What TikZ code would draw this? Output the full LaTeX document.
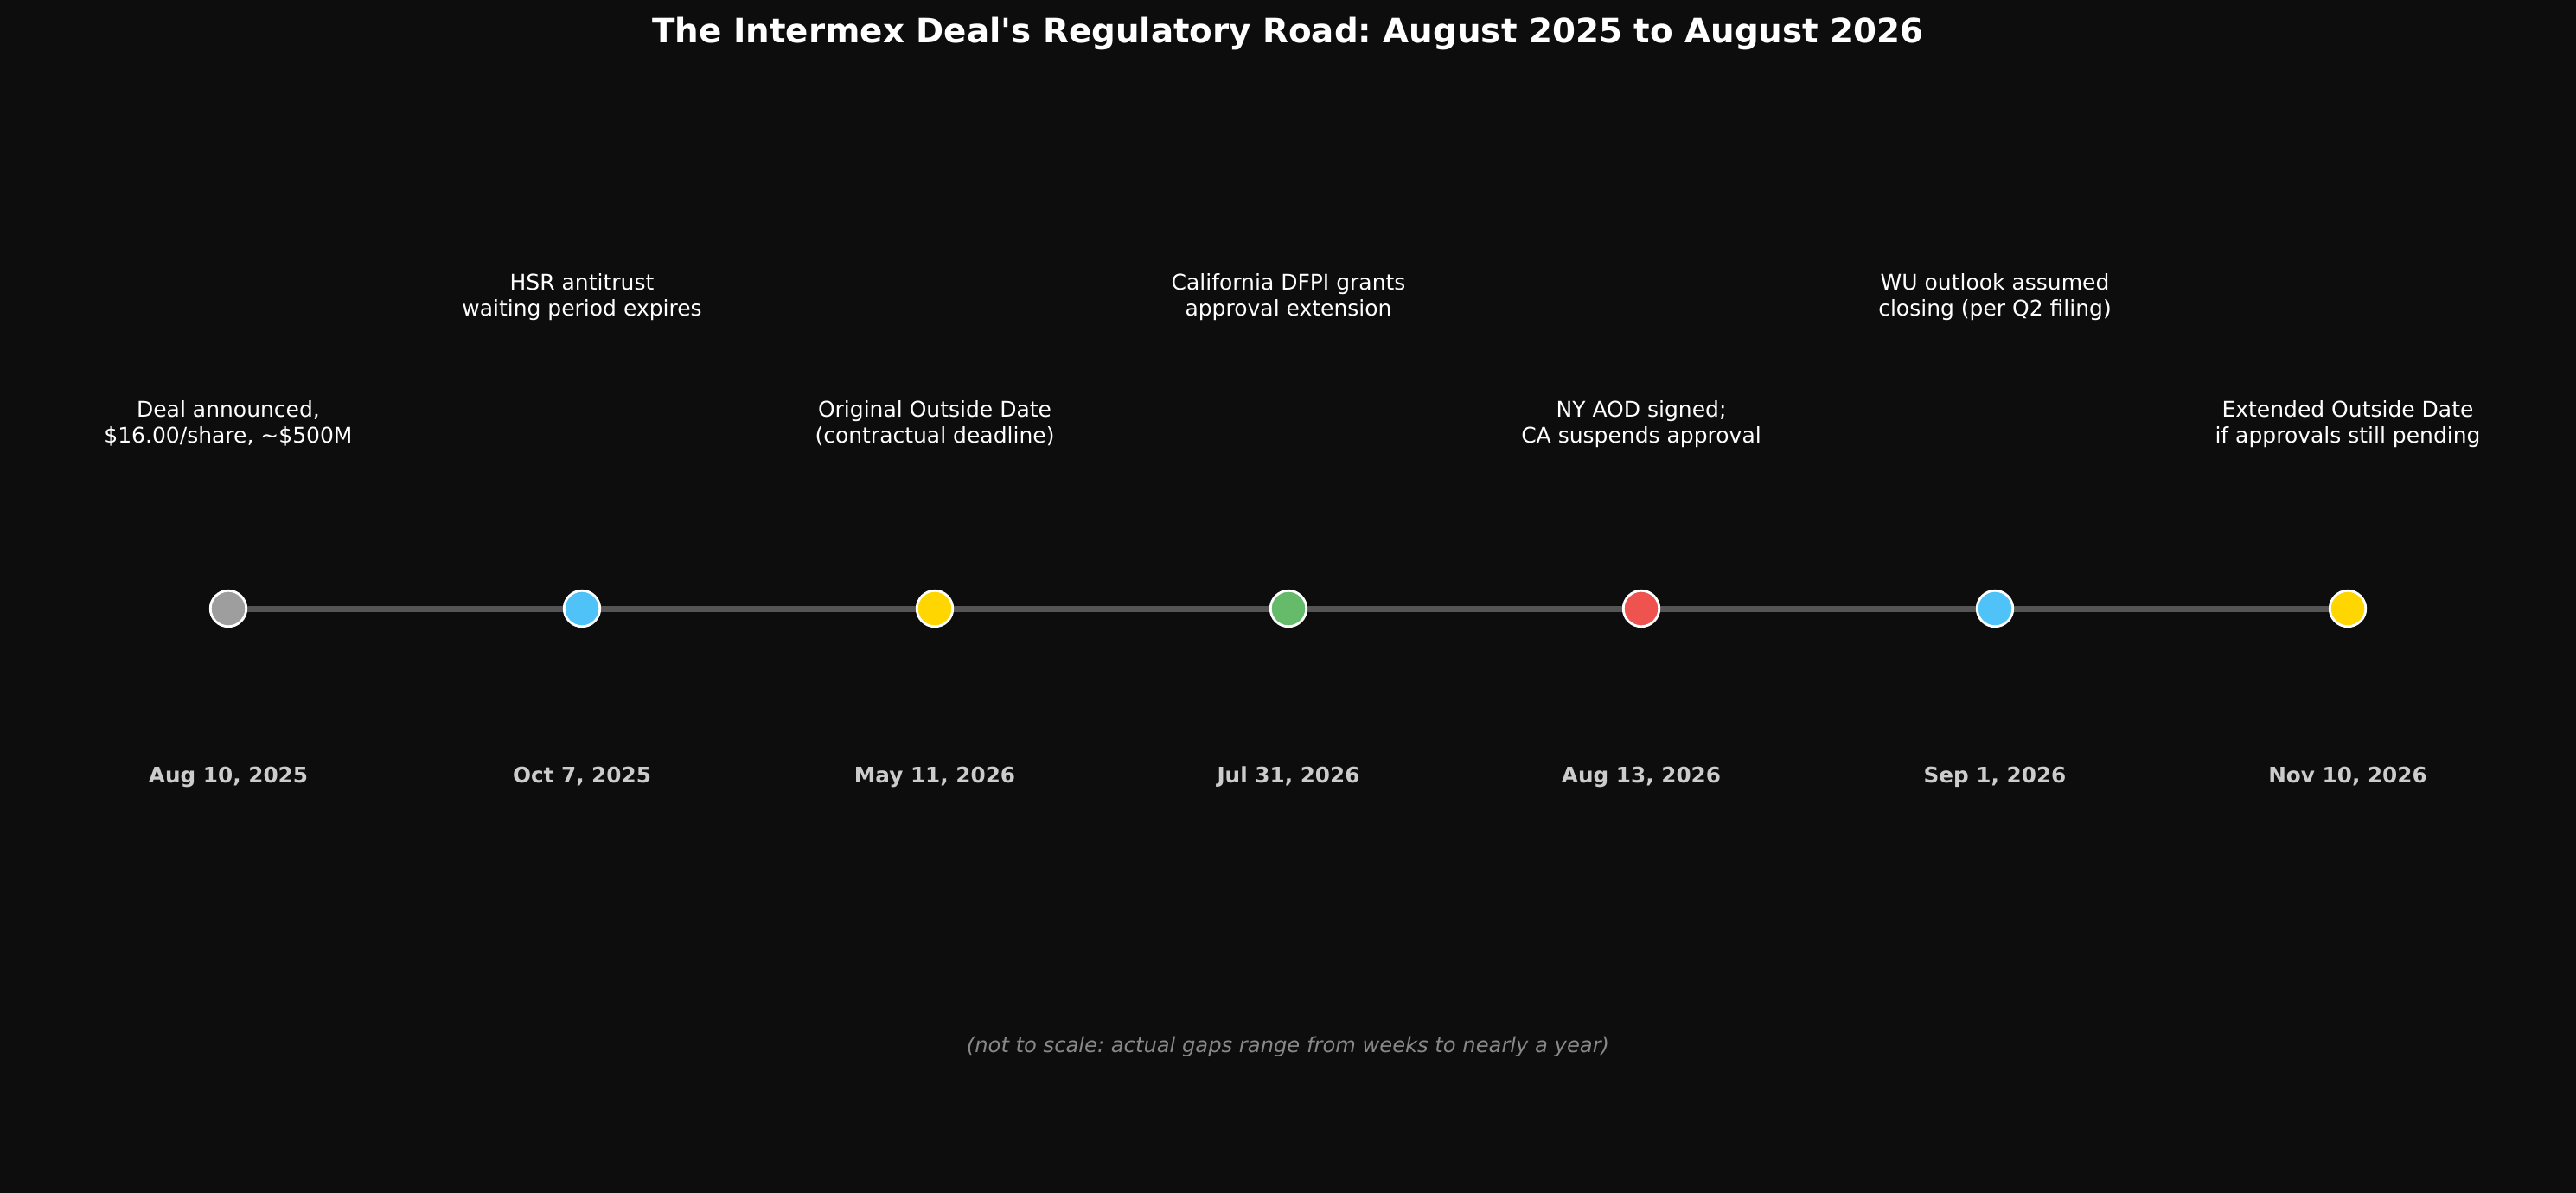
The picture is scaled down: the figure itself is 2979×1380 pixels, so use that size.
\documentclass[tikz,border=0pt]{standalone}
\usepackage{fontspec}
\setmainfont{DejaVu Sans}
\frenchspacing
\definecolor{bg}{HTML}{0D0D0D}
\definecolor{axis}{HTML}{555555}
\definecolor{cgray}{HTML}{9E9E9E}
\definecolor{cblue}{HTML}{4FC3F7}
\definecolor{cyellow}{HTML}{FFD600}
\definecolor{cgreen}{HTML}{66BB6A}
\definecolor{cred}{HTML}{EF5350}
\definecolor{datecol}{HTML}{CCCCCC}
\definecolor{notecol}{HTML}{888888}
\tikzset{
  dot/.style={circle, draw=white, line width=2.8pt, minimum size=41.5pt, inner sep=0pt},
  evlabel/.style={text=white, font=\fontsize{25}{30}\selectfont, align=center, anchor=base, inner sep=0pt},
  datelabel/.style={text=datecol, font=\fontsize{24.7}{29}\selectfont\bfseries, anchor=base, inner sep=0pt},
  axisline/.style={draw=axis, line width=7pt}
}
\begin{document}
\begin{tikzpicture}[x=1pt,y=-1pt]
\fill[bg] (0,0) rectangle (2979,1380);
\useasboundingbox (0,0) rectangle (2979,1380);
\node[text=white, font=\fontsize{38.8}{46}\selectfont\bfseries, anchor=base, inner sep=0pt] (title) at (1489.5,50) {The Intermex Deal\textquotesingle s Regulatory Road: August 2025 to August 2026};
% axis
\coordinate (p1) at (264,704);
\coordinate (p2) at (673,704);
\coordinate (p3) at (1081,704);
\coordinate (p4) at (1490,704);
\coordinate (p5) at (1898,704);
\coordinate (p6) at (2307,704);
\coordinate (p7) at (2715,704);
\draw[axisline] (p1) -- (p7);
\node[dot, fill=cgray] (e1) at (p1) {};
\node[dot, fill=cblue] (e2) at (p2) {};
\node[dot, fill=cyellow] (e3) at (p3) {};
\node[dot, fill=cgreen] (e4) at (p4) {};
\node[dot, fill=cred] (e5) at (p5) {};
\node[dot, fill=cblue] (e6) at (p6) {};
\node[dot, fill=cyellow] (e7) at (p7) {};
% event labels (anchor = baseline of last line)
\node[evlabel] (l1) at (264,512) {Deal announced,\\\$16.00/share, \textasciitilde\$500M};
\node[evlabel] (l2) at (673,365) {HSR antitrust\\waiting period expires};
\node[evlabel] (l3) at (1081,512) {Original Outside Date\\(contractual deadline)};
\node[evlabel] (l4) at (1490,365) {California DFPI grants\\approval extension};
\node[evlabel] (l5) at (1898,512) {NY AOD signed;\\CA suspends approval};
\node[evlabel] (l6) at (2307,365) {WU outlook assumed\\closing (per Q2 filing)};
\node[evlabel] (l7) at (2715,512) {Extended Outside Date\\if approvals still pending};
% dates
\node[datelabel] (d1) at (264,905) {Aug 10, 2025};
\node[datelabel] (d2) at (673,905) {Oct 7, 2025};
\node[datelabel] (d3) at (1081,905) {May 11, 2026};
\node[datelabel] (d4) at (1490,905) {Jul 31, 2026};
\node[datelabel] (d5) at (1898,905) {Aug 13, 2026};
\node[datelabel] (d6) at (2307,905) {Sep 1, 2026};
\node[datelabel] (d7) at (2715,905) {Nov 10, 2026};
\node[text=notecol, font=\fontsize{24.2}{29}\selectfont\itshape, anchor=base, inner sep=0pt] (note) at (1489.5,1217) {(not to scale: actual gaps range from weeks to nearly a year)};
\end{tikzpicture}
\end{document}
